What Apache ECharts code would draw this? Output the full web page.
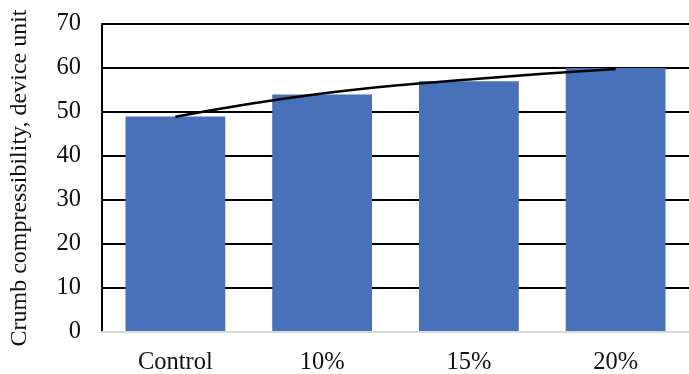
<!DOCTYPE html>
<html>
<head>
<meta charset="utf-8">
<script src="https://cdn.jsdelivr.net/npm/echarts@6/dist/echarts.min.js"></script>
<style>
  html, body { margin: 0; padding: 0; background: #fff; }
  #chart { width: 689px; height: 374px; }
</style>
</head>
<body>
<div id="chart"></div>
<script>
// Crumb compressibility by additive level
const categories = ['Control', '10%', '15%', '20%'];
const compressibility = [49, 54, 57, 60];
// Logarithmic trend line values at each category
const trendValues = [48.9, 54.2, 57.4, 59.8];
const yTicks = { min: 0, max: 70, interval: 10 };

const FONT = '"Liberation Serif", "Times New Roman", serif';

const chart = echarts.init(document.getElementById('chart'), null, { renderer: 'canvas' });
chart.setOption({
  animation: false,
  backgroundColor: '#ffffff',
  grid: { left: 102, right: 0, top: 24, bottom: 42, containLabel: false, outerBoundsMode: 'none' },
  xAxis: {
    type: 'category',
    data: categories,
    axisLine: { show: true, lineStyle: { color: '#d9d9d9', width: 2 } },
    axisTick: { show: false },
    axisLabel: { color: '#111', fontFamily: FONT, fontSize: 24.5, margin: 18 },
    z: 5
  },
  yAxis: {
    type: 'value',
    min: yTicks.min,
    max: yTicks.max,
    interval: yTicks.interval,
    name: 'Crumb compressibility, device unit',
    nameLocation: 'middle',
    nameGap: 70,
    nameTextStyle: { color: '#111', fontFamily: FONT, fontSize: 24 },
    axisLine: { show: true, lineStyle: { color: '#000', width: 2 } },
    axisTick: { show: false },
    axisLabel: { color: '#111', fontFamily: FONT, fontSize: 24.5, margin: 21 },
    splitLine: { show: true, showMinLine: false, lineStyle: { color: '#000', width: 2 } }
  },
  series: [
    {
      type: 'bar',
      data: compressibility,
      barCategoryGap: '32%',
      itemStyle: { color: '#4771B8' },
      z: 2
    },
    {
      type: 'line',
      data: trendValues,
      smooth: true,
      symbol: 'none',
      lineStyle: { color: '#000', width: 2.5 },
      z: 3
    }
  ]
});
</script>
</body>
</html>
